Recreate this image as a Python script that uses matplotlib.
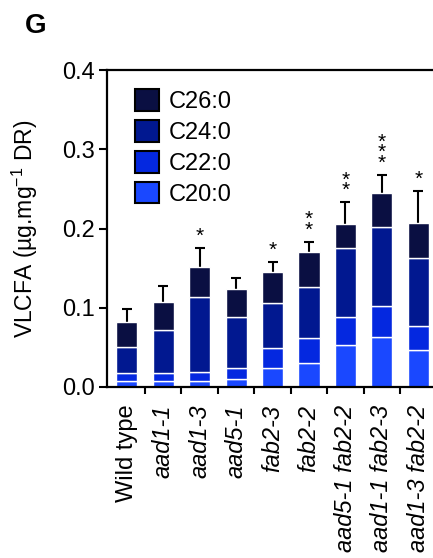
import numpy as np
import matplotlib
matplotlib.use('Agg')
import matplotlib.pyplot as plt
from matplotlib.patches import Patch
from matplotlib.ticker import MultipleLocator, FormatStrFormatter

plt.rcParams['font.family'] = ['Liberation Sans', 'DejaVu Sans']
plt.rcParams['mathtext.fontset'] = 'custom'
plt.rcParams['mathtext.rm'] = 'Liberation Sans'

# data
genotypes = ['Wild type', 'aad1-1', 'aad1-3', 'aad5-1', 'fab2-3', 'fab2-2',
             'aad5-1 fab2-2', 'aad1-1 fab2-3', 'aad1-3 fab2-2']
c20 = [0.007, 0.007, 0.007, 0.009, 0.023, 0.030, 0.053, 0.063, 0.046]
c22 = [0.0097, 0.0097, 0.0117, 0.014, 0.0254, 0.031, 0.035, 0.039, 0.0304]
c24 = [0.0329, 0.0548, 0.0942, 0.0654, 0.0576, 0.0653, 0.0873, 0.1004, 0.0857]
c26 = [0.0324, 0.0358, 0.0387, 0.035, 0.039, 0.0437, 0.031, 0.043, 0.0443]
sd = [0.0157, 0.0197, 0.024, 0.0136, 0.013, 0.013, 0.027, 0.0224, 0.041]
stars = [0, 0, 1, 0, 1, 2, 2, 3, 1]

col20 = '#1a48ff'
col22 = '#0428e0'
col24 = '#011890'
col26 = '#0a0f42'

fig = plt.figure(figsize=(4.33, 5.58), dpi=100)
ax = fig.add_axes([0.2471, 0.3073, 0.7529, 0.5664])

x = np.arange(len(genotypes))
w = 0.58
b1 = np.array(c20)
b2 = b1 + np.array(c22)
b3 = b2 + np.array(c24)
tops = b3 + np.array(c26)

ax.errorbar(x, tops, yerr=sd, fmt='none', ecolor='black', elinewidth=1.5,
            capsize=3.3, capthick=1.5, zorder=1)
ax.bar(x, c20, w, color=col20, edgecolor='white', linewidth=1, zorder=2)
ax.bar(x, c22, w, bottom=b1, color=col22, edgecolor='white', linewidth=1, zorder=2)
ax.bar(x, c24, w, bottom=b2, color=col24, edgecolor='white', linewidth=1, zorder=2)
ax.bar(x, c26, w, bottom=b3, color=col26, edgecolor='white', linewidth=1, zorder=2)

# asterisks, stacked vertically
for i in range(len(genotypes)):
    if stars[i] > 0:
        ax.annotate('\n'.join(['*'] * stars[i]), xy=(x[i], tops[i] + sd[i]),
                    xytext=(0, 1.5), textcoords='offset points',
                    ha='center', va='bottom', fontsize=15, linespacing=0.45)

ax.set_xlim(-0.543, 8.405)
ax.set_ylim(0, 0.4)
ax.yaxis.set_major_locator(MultipleLocator(0.1))
ax.yaxis.set_major_formatter(FormatStrFormatter('%.1f'))
ax.set_xticks(x)
ax.set_xticklabels(genotypes, rotation=90)
for lab in ax.get_xticklabels()[1:]:
    lab.set_fontstyle('italic')
ax.set_xticks(x[:-1] + 0.5, minor=True)
ax.tick_params(axis='x', which='major', length=0, pad=13, labelsize=17)
ax.tick_params(axis='x', which='minor', length=5, width=1.5)
ax.tick_params(axis='y', length=6, width=1.5, labelsize=17, pad=3)

ax.spines['right'].set_visible(False)
for s in ['left', 'bottom', 'top']:
    ax.spines[s].set_linewidth(1.6)

ax.set_ylabel('VLCFA (µg.mg$^{\\mathregular{-1}}$ DR)', fontsize=16.5)
ax.yaxis.set_label_coords(-0.205, 0.5)

handles = [Patch(facecolor=c, edgecolor='black', linewidth=1.5)
           for c in [col26, col24, col22, col20]]
ax.legend(handles, ['C26:0', 'C24:0', 'C22:0', 'C20:0'], loc='upper left',
          bbox_to_anchor=(0.0859, 0.94), frameon=False, fontsize=17,
          handlelength=1.0, handleheight=1.0, handletextpad=0.45,
          labelspacing=0.31, borderaxespad=0, borderpad=0)

fig.text(0.058, 1 - 26 / 558, 'G', fontsize=20, fontweight='bold', va='center')

fig.savefig('out.png', dpi=100)
